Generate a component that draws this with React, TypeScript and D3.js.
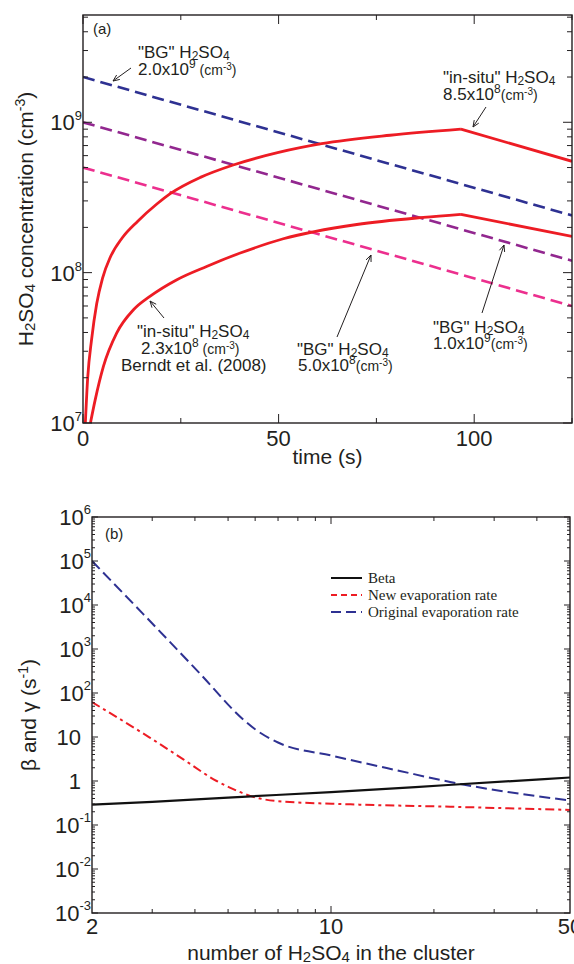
import React from 'react';
import * as d3 from 'd3';

const W = 574;
const H = 964;

// ---------- Panel (a) data ----------
const bgTime = [0, 125];
const bgHigh = [2.0e9, 2.4e8];
const bgMid = [1.0e9, 1.2e8];
const bgLow = [5.0e8, 6.0e7];
const insituHighTime = [0.6, 1.2, 2.2, 3.5, 5, 7, 10, 14, 18.8, 22.3, 30, 38.4, 50, 61, 78.5, 96.6, 125];
const insituHighConc = [1e7, 2.0e7, 3.6e7, 6.2e7, 9.2e7, 1.27e8, 1.7e8, 2.2e8, 2.85e8, 3.35e8, 4.3e8, 5.2e8, 6.3e8, 7.2e8, 8.2e8, 9.0e8, 5.5e8];
const insituLowTime = [1.9, 3.1, 5.2, 8.6, 12.9, 17.1, 24, 31.6, 40.2, 51.2, 70, 87, 96.6, 125];
const insituLowConc = [1e7, 1.42e7, 2.37e7, 3.96e7, 5.66e7, 6.95e7, 8.98e7, 1.1e8, 1.35e8, 1.68e8, 2.09e8, 2.33e8, 2.44e8, 1.74e8];
const timeMajor = [0, 50, 100];
const timeMinor = [25, 75, 125];
const concExponents = [7, 8, 9];

// ---------- Panel (b) data ----------
const betaN = [2, 3, 5, 10, 22, 50];
const betaRate = [0.29, 0.335, 0.42, 0.56, 0.81, 1.2];
const newN = [2, 2.95, 3.7, 4.63, 5.06, 5.8, 6.93, 11.4, 22.3, 50];
const newRate = [62, 9.7, 3.1, 1.0, 0.71, 0.46, 0.35, 0.295, 0.26, 0.22];
const origN = [2, 2.82, 4.14, 5.54, 6.0, 7.0, 10.15, 15.9, 22.3, 50];
const origRate = [1.0e5, 6300, 275, 25, 15, 7.5, 3.7, 1.69, 0.95, 0.36];
const clusterLabels = [2, 10, 50];
const clusterMinor = [3, 4, 5, 6, 7, 8, 9, 20, 30, 40];
const rateExponents = [-3, -2, -1, 0, 1, 2, 3, 4, 5, 6];
const legendLabels = ['Beta', 'New evaporation rate', 'Original evaporation rate'];

// ---------- styling ----------
const INK = '#231f20';
const RED = '#ed1c24';
const NAVY = '#2e3192';
const PURPLE = '#92278f';
const PINK = '#ec2f8e';
const SANS = '"Liberation Sans", Arial, Helvetica, sans-serif';
const SERIF = '"Liberation Serif", "Times New Roman", serif';

type Seg = { t: string; s?: number; b?: number };

function Rich(props: { x: number; y: number; size: number; segs: Seg[]; anchor?: string; transform?: string; family?: string }) {
  let prev = 0;
  return (
    <text x={props.x} y={props.y} fontSize={props.size} textAnchor={props.anchor || 'start'} transform={props.transform}
      fontFamily={props.family || SANS} fill={INK} style={{ whiteSpace: 'pre' }}>
      {props.segs.map((sg, i) => {
        const b = sg.b ?? 0;
        const dy = b - prev;
        prev = b;
        return <tspan key={i} dy={dy} fontSize={sg.s ?? props.size}>{sg.t}</tspan>;
      })}
    </text>
  );
}

const h2so4 = (size: number, sub: number): Seg[] => [
  { t: 'H', s: size }, { t: '2', s: sub, b: 2 }, { t: 'SO', s: size }, { t: '4', s: sub, b: 2 },
];
const conc = (mant: string, exp: string, gap: boolean): Seg[] => [
  { t: mant + '10', s: 17 }, { t: exp, s: 12, b: -7 }, { t: (gap ? ' ' : '') + '(cm', s: 14 }, { t: '-3', s: 10, b: -5 }, { t: ')', s: 14 },
];

function Arrow({ x1, y1, x2, y2 }: { x1: number; y1: number; x2: number; y2: number }) {
  const a = Math.atan2(y2 - y1, x2 - x1);
  const L = 7, sp = 0.4;
  const p1 = [x2 - L * Math.cos(a - sp), y2 - L * Math.sin(a - sp)];
  const p2 = [x2 - L * Math.cos(a + sp), y2 - L * Math.sin(a + sp)];
  return (
    <g stroke={INK} strokeWidth={1} fill="none">
      <line x1={x1} y1={y1} x2={x2} y2={y2} />
      <path d={`M${p1[0]},${p1[1]}L${x2},${y2}L${p2[0]},${p2[1]}`} />
    </g>
  );
}

export default function App() {
  // ----- panel (a) scales -----
  const A = { l: 83, r: 572, t: 15, b: 423 };
  const xA = d3.scaleLinear().domain([0, 125]).range([A.l, A.r]);
  const yA = d3.scaleLog().domain([1e7, 5.17e9]).range([A.b, A.t]);
  const lineA = d3.line<[number, number]>().x(d => xA(d[0])).y(d => yA(d[1]));
  const curveA = d3.line<[number, number]>().x(d => xA(d[0])).y(d => yA(d[1])).curve(d3.curveMonotoneX);

  const zip = (a: number[], b: number[]) => a.map((v, i) => [v, b[i]] as [number, number]);
  const splitPeak = (t: number[], c: number[]) => {
    const k = c.indexOf(Math.max(...c));
    return { rise: zip(t.slice(0, k + 1), c.slice(0, k + 1)), fall: zip(t.slice(k), c.slice(k)) };
  };
  const high = splitPeak(insituHighTime, insituHighConc);
  const low = splitPeak(insituLowTime, insituLowConc);

  const yMinorA: number[] = [];
  concExponents.forEach(e => { for (let m = 2; m <= 9; m++) { const v = m * Math.pow(10, e); if (v < yA.domain()[1]) yMinorA.push(v); } });

  // ----- panel (b) scales -----
  const B = { l: 92, r: 570, t: 517, b: 913 };
  const xB = d3.scaleLog().domain([2, 50]).range([B.l, B.r]);
  const yB = d3.scaleLog().domain([1e-3, 1e6]).range([B.b, B.t]);
  const curveB = d3.line<[number, number]>().x(d => xB(d[0])).y(d => yB(d[1])).curve(d3.curveMonotoneX);
  const yMinorB: number[] = [];
  rateExponents.slice(0, -1).forEach(e => { for (let m = 2; m <= 9; m++) yMinorB.push(m * Math.pow(10, e)); });

  const dashTop = '12,6';

  return (
    <svg width={W} height={H} viewBox={`0 0 ${W} ${H}`} style={{ position: 'absolute', left: 0, top: 0, background: '#fff' }}
      fontFamily={SANS}>
      <defs>
        <clipPath id="clipA"><rect x={A.l} y={A.t} width={A.r - A.l} height={A.b - A.t} /></clipPath>
        <clipPath id="clipB"><rect x={B.l} y={B.t} width={B.r - B.l} height={B.b - B.t} /></clipPath>
      </defs>

      {/* ================= Panel (a) ================= */}
      <g clipPath="url(#clipA)" fill="none">
        <path d={lineA(zip(bgTime, bgLow)) || ''} stroke={PINK} strokeWidth={2.6} strokeDasharray={dashTop} />
        <path d={lineA(zip(bgTime, bgMid)) || ''} stroke={PURPLE} strokeWidth={2.6} strokeDasharray={dashTop} />
        <path d={lineA(zip(bgTime, bgHigh)) || ''} stroke={NAVY} strokeWidth={2.6} strokeDasharray={dashTop} />
        <path d={curveA(high.rise) || ''} stroke={RED} strokeWidth={2.8} />
        <path d={lineA(high.fall) || ''} stroke={RED} strokeWidth={2.8} />
        <path d={curveA(low.rise) || ''} stroke={RED} strokeWidth={2.8} />
        <path d={lineA(low.fall) || ''} stroke={RED} strokeWidth={2.8} />
      </g>
      {/* ticks */}
      <g stroke={INK} strokeWidth={1}>
        {timeMajor.map(t => (
          <g key={'tm' + t}>
            <line x1={xA(t)} x2={xA(t)} y1={A.b} y2={A.b - 9} />
            <line x1={xA(t)} x2={xA(t)} y1={A.t} y2={A.t + 9} />
          </g>
        ))}
        {timeMinor.map(t => (
          <g key={'tn' + t}>
            <line x1={xA(t)} x2={xA(t)} y1={A.b} y2={A.b - 5} />
            <line x1={xA(t)} x2={xA(t)} y1={A.t} y2={A.t + 5} />
          </g>
        ))}
        {concExponents.map(e => (
          <g key={'cm' + e}>
            <line x1={A.l} x2={A.l + 9} y1={yA(Math.pow(10, e))} y2={yA(Math.pow(10, e))} />
            <line x1={A.r} x2={A.r - 9} y1={yA(Math.pow(10, e))} y2={yA(Math.pow(10, e))} />
          </g>
        ))}
        {yMinorA.map(v => (
          <g key={'cn' + v}>
            <line x1={A.l} x2={A.l + 5} y1={yA(v)} y2={yA(v)} />
            <line x1={A.r} x2={A.r - 5} y1={yA(v)} y2={yA(v)} />
          </g>
        ))}
      </g>
      <rect x={A.l} y={A.t} width={A.r - A.l} height={A.b - A.t} fill="none" stroke={INK} strokeWidth={1.4} />
      {/* tick labels */}
      {timeMajor.map(t => (
        <text key={'tl' + t} x={xA(t)} y={A.b + 23} fontSize={22} textAnchor="middle" fill={INK}>{t}</text>
      ))}
      {concExponents.map(e => (
        <Rich key={'cl' + e} x={A.l - 1} y={yA(Math.pow(10, e)) + 8} size={22} anchor="end"
          segs={[{ t: '10', s: 22 }, { t: String(e), s: 13, b: -10 }]} />
      ))}
      {/* axis titles */}
      <text x={(A.l + A.r) / 2} y={A.b + 41} fontSize={21} textAnchor="middle" fill={INK}>time (s)</text>
      <Rich x={0} y={0} size={21} anchor="middle" transform={`translate(33,${(A.t + A.b) / 2}) rotate(-90)`}
        segs={[...h2so4(21, 15), { t: ' concentration (cm', s: 21 }, { t: '-3', s: 14, b: -8 }, { t: ')', s: 21 }]} />
      <text x={93} y={34} fontSize={15} fill={INK}>(a)</text>

      {/* annotations */}
      <Rich x={138} y={58} size={17} segs={[{ t: '"BG" ', s: 17 }, ...h2so4(17, 12)]} />
      <Rich x={138} y={75} size={17} segs={conc('2.0x', '9', true)} />
      <Arrow x1={131} y1={68} x2={113} y2={81} />

      <Rich x={443} y={83} size={17} segs={[{ t: '"in-situ" ', s: 17 }, ...h2so4(17, 12)]} />
      <Rich x={443} y={100} size={17} segs={conc('8.5x', '8', false)} />
      <Arrow x1={486} y1={107} x2={473} y2={127} />

      <Rich x={137} y={337} size={17} segs={[{ t: '"in-situ" ', s: 17 }, ...h2so4(17, 12)]} />
      <Rich x={141} y={354} size={17} segs={conc('2.3x', '8', true)} />
      <text x={121} y={371} fontSize={17} fill={INK}>Berndt et al. (2008)</text>
      <Arrow x1={164} y1={318} x2={150} y2={301} />

      <Rich x={297} y={355} size={17} segs={[{ t: '"BG" ', s: 17 }, ...h2so4(17, 12)]} />
      <Rich x={298} y={371} size={17} segs={conc('5.0x', '8', false)} />
      <Arrow x1={337} y1={337} x2={371} y2={255} />

      <Rich x={433} y={333} size={17} segs={[{ t: '"BG" ', s: 17 }, ...h2so4(17, 12)]} />
      <Rich x={433} y={349} size={17} segs={conc('1.0x', '9', false)} />
      <Arrow x1={482} y1={313} x2={504} y2={245} />

      {/* ================= Panel (b) ================= */}
      <g clipPath="url(#clipB)" fill="none">
        <path d={curveB(zip(origN, origRate)) || ''} stroke={NAVY} strokeWidth={2} strokeDasharray="11,5" />
        <path d={curveB(zip(newN, newRate)) || ''} stroke={RED} strokeWidth={2} strokeDasharray="9,4,3,4" />
        <path d={curveB(zip(betaN, betaRate)) || ''} stroke="#111" strokeWidth={2.2} />
      </g>
      <g stroke={INK} strokeWidth={1}>
        {[10].map(n => (
          <g key={'bm' + n}>
            <line x1={xB(n)} x2={xB(n)} y1={B.b} y2={B.b - 7} />
            <line x1={xB(n)} x2={xB(n)} y1={B.t} y2={B.t + 7} />
          </g>
        ))}
        {clusterMinor.map(n => (
          <g key={'bn' + n}>
            <line x1={xB(n)} x2={xB(n)} y1={B.b} y2={B.b - 4} />
            <line x1={xB(n)} x2={xB(n)} y1={B.t} y2={B.t + 4} />
          </g>
        ))}
        {rateExponents.map(e => (
          <g key={'rm' + e}>
            <line x1={B.l} x2={B.l + 6} y1={yB(Math.pow(10, e))} y2={yB(Math.pow(10, e))} />
            <line x1={B.r} x2={B.r - 6} y1={yB(Math.pow(10, e))} y2={yB(Math.pow(10, e))} />
          </g>
        ))}
        {yMinorB.map(v => (
          <g key={'rn' + v}>
            <line x1={B.l} x2={B.l + 3} y1={yB(v)} y2={yB(v)} />
            <line x1={B.r} x2={B.r - 3} y1={yB(v)} y2={yB(v)} />
          </g>
        ))}
      </g>
      <rect x={B.l} y={B.t} width={B.r - B.l} height={B.b - B.t} fill="none" stroke={INK} strokeWidth={1.4} />
      {clusterLabels.map(n => (
        <text key={'xl' + n} x={xB(n)} y={B.b + 21} fontSize={22} textAnchor="middle" fill={INK}>{n}</text>
      ))}
      {rateExponents.map(e => (
        e === 0 || e === 1 ? (
          <text key={'yl' + e} x={B.l - 11} y={yB(Math.pow(10, e)) + 8} fontSize={22} textAnchor="end" fill={INK}>{e === 0 ? '1' : '10'}</text>
        ) : (
          <Rich key={'yl' + e} x={B.l - 1} y={yB(Math.pow(10, e)) + 8} size={22} anchor="end"
            segs={[{ t: '10', s: 22 }, { t: String(e), s: 13, b: -11 }]} />
        )
      ))}
      <Rich x={(B.l + B.r) / 2} y={960} size={21} anchor="middle"
        segs={[{ t: 'number of ', s: 21 }, ...h2so4(21, 15), { t: ' in the cluster', s: 21 }]} />
      <Rich x={0} y={0} size={21} anchor="middle" transform={`translate(36,${(B.t + B.b) / 2}) rotate(-90)`}
        segs={[{ t: 'β and γ (s', s: 21 }, { t: '-1', s: 14, b: -8 }, { t: ')', s: 21 }]} />
      <text x={105} y={539} fontSize={15} fill={INK}>(b)</text>

      {/* legend */}
      {legendLabels.map((lab, i) => {
        const y = 578 + i * 17;
        const styles = [
          { c: '#111', d: undefined },
          { c: RED, d: '6,4' },
          { c: NAVY, d: '10,5' },
        ][i];
        return (
          <g key={lab}>
            <line x1={331} x2={362} y1={y} y2={y} stroke={styles.c} strokeWidth={2} strokeDasharray={styles.d} />
            <text x={368} y={y + 5} fontSize={15} fontFamily={SERIF} fill={INK}>{lab}</text>
          </g>
        );
      })}
    </svg>
  );
}
